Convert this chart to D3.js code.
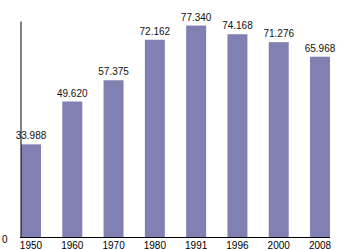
<!DOCTYPE html>
<meta charset="utf-8">
<style>
body { margin: 0; background: #fff; }
text { font-family: 'Liberation Sans', Arial, sans-serif; }
</style>
<body>
<script src="https://d3js.org/d3.v7.min.js"></script>
<script>
	var years = ["1950", "1960", "1970", "1980", "1991", "1996", "2000", "2008"];
	var values = [33.988, 49.620, 57.375, 72.162, 77.340, 74.168, 71.276, 65.968];
	var yTicks = [0];

	var width = 350,
		height = 250;

	var barColour = "#8080b2";

	var svg = d3.select("body").append("svg")
		.attr("width", width)
		.attr("height", height);

	var x = d3.scaleBand()
		.domain(years)
		.range([21, 330])
		.paddingInner(0.516)
		.paddingOuter(0);

	var y = d3.scaleLinear()
		.domain([0, 79])
		.range([237.5, 21]);

	// bars
	svg.append("g")
		.selectAll("rect")
		.data(years)
		.enter().append("rect")
			.attr("x", function(d) { return x(d); })
			.attr("y", function(d, i) { return y(values[i]); })
			.attr("width", x.bandwidth())
			.attr("height", function(d, i) { return y(0) - y(values[i]); })
			.attr("fill", barColour);

	// value labels
	svg.append("g")
		.selectAll("text")
		.data(years)
		.enter().append("text")
			.attr("x", function(d) { return x(d) + x.bandwidth() / 2; })
			.attr("y", function(d, i) { return y(values[i]) - 5; })
			.attr("text-anchor", "middle")
			.style("font-size", "10px")
			.style("fill", "#111")
			.text(function(d, i) { return values[i].toFixed(3); });

	// y axis
	var yAxis = svg.append("g")
		.attr("transform", "translate(20.5,0)")
		.call(d3.axisLeft(y).tickValues(yTicks).tickSize(0).tickSizeOuter(0).tickPadding(13));
	yAxis.select(".domain").attr("stroke", "#000");
	yAxis.selectAll("text").style("font-size", "10px").style("font-family", "'Liberation Sans', Arial, sans-serif").attr("dy", "0.45em");

	// x axis
	var xAxis = svg.append("g")
		.attr("transform", "translate(0," + y(0) + ")")
		.call(d3.axisBottom(x).tickSize(0).tickSizeOuter(0).tickPadding(4));
	xAxis.select(".domain").attr("d", "M20,0H330").attr("stroke", "#000");
	xAxis.selectAll("text").style("font-size", "10px").style("font-family", "'Liberation Sans', Arial, sans-serif");
</script>
</body>
</html>
